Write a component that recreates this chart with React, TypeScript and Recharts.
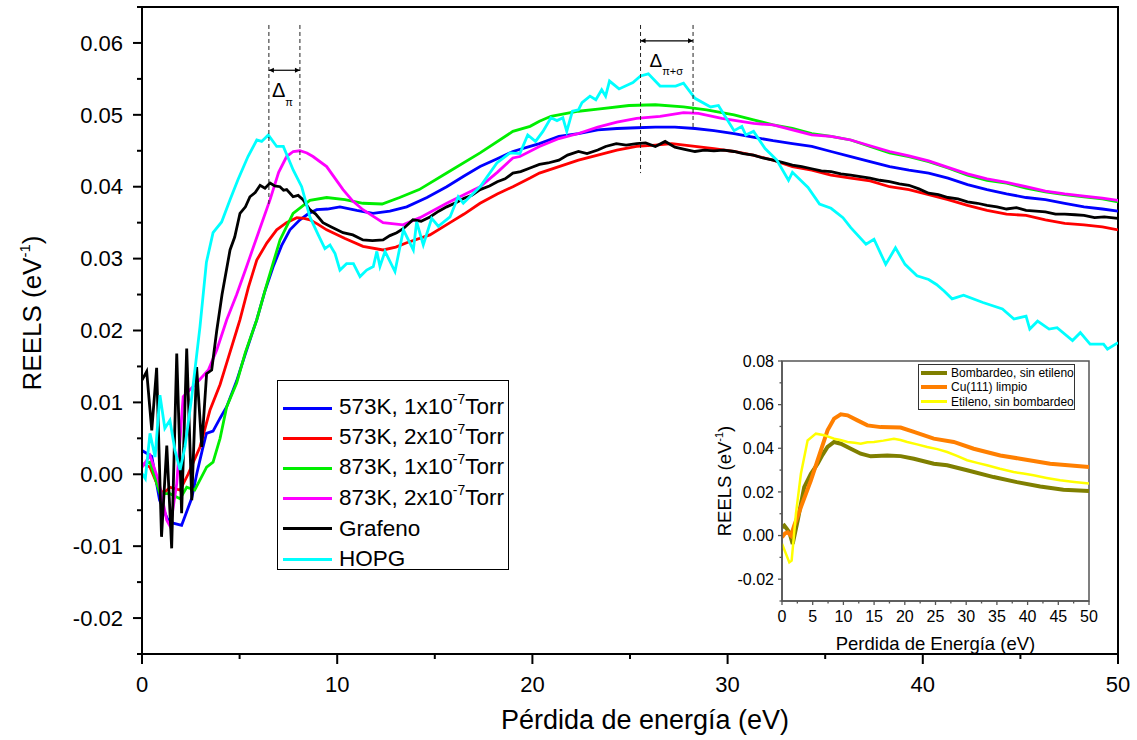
import React from 'react';
import { LineChart, Line, XAxis, YAxis, ReferenceArea, ReferenceLine, ReferenceDot, Legend } from 'recharts';

type Pt = [number, number];
const toData = (pts: Pt[]) => pts.map(([x, y]) => ({ x, y }));

// ---------- Main chart ticks ----------
const mainXTicks = [0, 5, 10, 15, 20, 25, 30, 35, 40, 45, 50];
const mainYTicks = [-0.025, -0.02, -0.015, -0.01, -0.005, 0, 0.005, 0.01, 0.015, 0.02, 0.025, 0.03, 0.035, 0.04, 0.045, 0.05, 0.055, 0.06, 0.065];
const insetXTicks = [0, 2.5, 5, 7.5, 10, 12.5, 15, 17.5, 20, 22.5, 25, 27.5, 30, 32.5, 35, 37.5, 40, 42.5, 45, 47.5, 50];
const insetYTicks = [-0.03, -0.02, -0.01, 0, 0.01, 0.02, 0.03, 0.04, 0.05, 0.06, 0.07, 0.08];

// ---------- Main series (Pérdida de energía eV, REELS) ----------
const s573K1: Pt[] = [[0,0.0033],[0.5,0.0025],[0.9,-0.0036],[1.3,-0.0062],[1.6,-0.0068],[2.03,-0.0071],[2.55,-0.0033],[2.8,0.0],[3.1,0.0035],[3.3,0.0057],[3.64,0.006],[4.0,0.0078],[4.34,0.0094],[4.85,0.013],[5.3,0.0168],[5.69,0.020],[5.88,0.0215],[6.3,0.0255],[6.71,0.0288],[7.15,0.0318],[7.58,0.034],[8.09,0.0354],[8.5,0.0362],[8.95,0.0368],[9.5,0.0369],[10.14,0.0372],[11.0,0.0367],[11.83,0.0363],[12.7,0.0366],[13.56,0.0372],[14.6,0.0385],[15.61,0.040],[16.5,0.0415],[17.32,0.0428],[18.2,0.0439],[19.0,0.0449],[19.88,0.0456],[20.36,0.046],[21.36,0.047],[22.36,0.0474],[23.35,0.0479],[24.33,0.0481],[25.34,0.0482],[26.3,0.0483],[27.3,0.0483],[28.33,0.0481],[29.3,0.0478],[30.33,0.0474],[31.3,0.0469],[32.33,0.0464],[33.32,0.046],[34.31,0.0456],[35.3,0.0449],[36.31,0.0442],[37.3,0.0435],[38.3,0.0428],[39.29,0.0423],[40.3,0.0419],[41.29,0.0412],[42.29,0.0403],[43.29,0.0396],[44.29,0.039],[45.29,0.0385],[46.28,0.0382],[47.27,0.0377],[48.26,0.0372],[49.2,0.0369],[50,0.0366]];
const s573K2: Pt[] = [[0,0.0015],[0.41,0.001],[0.84,-0.0018],[1.09,-0.0027],[1.43,-0.0018],[1.95,-0.0022],[2.36,0.0],[2.97,0.0038],[3.48,0.0089],[4.0,0.0125],[4.34,0.0155],[4.85,0.020],[5.02,0.0215],[5.45,0.026],[5.88,0.0298],[6.4,0.0322],[6.9,0.034],[7.4,0.035],[7.93,0.0357],[8.3,0.0356],[8.6,0.0354],[9.0,0.0348],[9.46,0.034],[10.4,0.0328],[11.32,0.0317],[12.35,0.0312],[13.0,0.0316],[13.56,0.0322],[14.75,0.0333],[15.78,0.035],[16.5,0.0362],[17.32,0.0377],[18.2,0.039],[19.0,0.040],[19.88,0.0412],[20.36,0.0419],[21.36,0.0428],[22.36,0.0437],[23.35,0.0444],[24.33,0.0451],[25.34,0.0456],[26.3,0.0458],[27.14,0.046],[28.33,0.0456],[29.3,0.0453],[30.33,0.0449],[31.3,0.0444],[32.33,0.0437],[33.32,0.0428],[34.31,0.0423],[35.3,0.0416],[36.31,0.0412],[37.3,0.0408],[38.3,0.040],[39.29,0.0396],[40.3,0.0389],[41.29,0.0382],[42.29,0.0374],[43.29,0.0367],[44.29,0.0362],[45.29,0.036],[46.28,0.0354],[47.27,0.0349],[48.26,0.0347],[49.2,0.0344],[50,0.034]];
const s873K1: Pt[] = [[0,0.0013],[0.41,0.0017],[0.92,-0.0027],[1.43,-0.0027],[1.95,-0.0034],[2.29,-0.0018],[2.7,-0.0022],[3.31,0.001],[3.64,0.0017],[4.0,0.005],[4.34,0.0094],[4.85,0.0127],[5.3,0.017],[5.69,0.020],[5.88,0.0215],[6.4,0.0265],[7.07,0.0326],[7.74,0.0363],[8.6,0.0381],[9.46,0.0385],[10.4,0.0382],[11.32,0.0377],[12.3,0.0376],[13.2,0.0385],[14.2,0.0396],[15.61,0.0419],[17.32,0.0447],[19.0,0.0477],[19.88,0.0484],[20.36,0.0491],[20.95,0.0498],[22.36,0.0505],[23.35,0.0508],[24.95,0.0513],[26.3,0.0514],[27.74,0.0511],[28.93,0.0507],[30.33,0.05],[31.33,0.0493],[32.33,0.0486],[33.32,0.0481],[34.31,0.0474],[35.3,0.047],[36.31,0.0465],[37.3,0.0456],[38.3,0.0447],[39.29,0.0442],[40.3,0.0435],[41.29,0.0426],[42.29,0.0416],[43.29,0.0409],[44.29,0.0405],[45.29,0.0398],[46.28,0.0393],[47.27,0.0389],[48.26,0.0386],[49.2,0.0383],[50,0.0379]];
const s873K2: Pt[] = [[0,0.001],[0.41,0.0026],[0.84,-0.0008],[1.27,-0.0064],[1.45,-0.0073],[1.78,-0.0013],[2.11,0.0108],[2.8,0.0127],[3.4,0.0145],[3.83,0.0173],[4.16,0.020],[4.34,0.0215],[4.85,0.025],[5.36,0.0289],[5.95,0.0335],[6.56,0.0382],[7.0,0.042],[7.41,0.0442],[7.75,0.0449],[8.09,0.045],[8.45,0.0447],[8.76,0.0442],[9.46,0.0428],[10.3,0.0396],[10.8,0.038],[11.32,0.0368],[12.35,0.035],[13.37,0.0347],[14.24,0.0357],[15.61,0.0377],[17.32,0.040],[18.2,0.042],[19.0,0.044],[19.36,0.0442],[20.36,0.0456],[21.36,0.0467],[22.36,0.0474],[23.35,0.0483],[24.33,0.049],[25.34,0.0495],[26.54,0.0498],[27.74,0.0503],[28.5,0.0502],[29.7,0.0495],[31.33,0.0488],[32.33,0.0486],[33.32,0.0479],[34.31,0.0472],[35.3,0.047],[36.31,0.0465],[37.3,0.0457],[38.3,0.0449],[39.29,0.0443],[40.3,0.0436],[41.29,0.0427],[42.29,0.0418],[43.29,0.0411],[44.29,0.0406],[45.29,0.04],[46.28,0.0394],[47.27,0.039],[48.26,0.0387],[49.2,0.0384],[50,0.0381]];
const sGrafeno: Pt[] = [[0,0.0131],[0.24,0.0143],[0.5,0.0061],[0.75,0.0148],[1.0,-0.0087],[1.27,0.004],[1.52,-0.0103],[1.78,0.0168],[2.03,-0.0054],[2.29,0.0175],[2.55,-0.0036],[2.8,0.0149],[3.06,0.0038],[3.31,0.014],[3.57,0.0145],[3.83,0.020],[4.1,0.025],[4.51,0.0312],[4.75,0.033],[5.02,0.0363],[5.3,0.0372],[5.53,0.0386],[5.8,0.0392],[6.05,0.0402],[6.3,0.0398],[6.56,0.0405],[6.8,0.0401],[7.07,0.040],[7.25,0.0395],[7.41,0.0396],[7.74,0.0386],[8.0,0.0388],[8.25,0.0382],[8.6,0.0368],[8.9,0.0362],[9.27,0.035],[9.7,0.0344],[10.3,0.0336],[10.8,0.0333],[11.32,0.0326],[11.8,0.0325],[12.35,0.0326],[12.7,0.0332],[13.05,0.0336],[13.4,0.0342],[13.88,0.0354],[14.3,0.0352],[14.75,0.0358],[15.2,0.0366],[15.61,0.0372],[16.1,0.0378],[16.5,0.0384],[16.9,0.0388],[17.32,0.0396],[17.8,0.0401],[18.2,0.0407],[18.6,0.0411],[19.0,0.0419],[19.4,0.0421],[19.88,0.0426],[20.36,0.0431],[20.8,0.0433],[21.36,0.0437],[21.8,0.0444],[22.36,0.0449],[22.8,0.0446],[23.35,0.0451],[23.75,0.0456],[24.3,0.046],[24.8,0.0458],[25.34,0.046],[25.8,0.0461],[26.3,0.0456],[26.8,0.0463],[27.3,0.0455],[27.8,0.0452],[28.33,0.0449],[28.8,0.0451],[29.3,0.045],[29.8,0.0451],[30.33,0.0449],[30.8,0.0446],[31.33,0.0444],[31.8,0.044],[32.33,0.0437],[32.8,0.0434],[33.32,0.043],[33.8,0.0428],[34.31,0.0425],[34.8,0.0422],[35.3,0.0421],[35.8,0.0418],[36.31,0.0416],[36.8,0.0414],[37.3,0.0412],[37.8,0.0409],[38.3,0.0407],[38.8,0.0404],[39.29,0.0402],[39.8,0.0397],[40.3,0.0391],[40.8,0.0389],[41.29,0.0385],[41.8,0.0383],[42.29,0.0379],[42.8,0.0377],[43.29,0.0374],[43.8,0.0372],[44.29,0.0369],[44.8,0.0371],[45.29,0.0367],[45.8,0.0366],[46.28,0.0365],[46.8,0.0362],[47.27,0.0362],[47.8,0.0361],[48.26,0.036],[48.8,0.0357],[49.3,0.0358],[50,0.0356]];
const sHOPG: Pt[] = [[0,0.0001],[0.17,-0.0006],[0.41,0.0057],[0.67,0.0024],[0.92,0.011],[1.17,0.0064],[1.43,0.0075],[1.69,0.0033],[1.95,0.0006],[2.2,0.0038],[2.55,0.0108],[2.97,0.0205],[3.3,0.0295],[3.64,0.0336],[4.08,0.0351],[4.51,0.0382],[4.92,0.041],[5.43,0.0442],[5.88,0.0465],[6.13,0.0463],[6.47,0.0472],[6.9,0.0456],[7.24,0.0456],[7.75,0.0423],[8.18,0.040],[8.6,0.0358],[9.03,0.0333],[9.37,0.0314],[9.63,0.0319],[9.89,0.0307],[10.14,0.0284],[10.48,0.0293],[10.83,0.0293],[11.17,0.0275],[11.51,0.0284],[11.85,0.0289],[12.03,0.031],[12.19,0.0289],[12.45,0.031],[12.96,0.0282],[13.39,0.034],[13.9,0.0312],[14.07,0.0351],[14.41,0.0319],[14.84,0.0356],[15.18,0.0345],[15.78,0.0358],[16.2,0.0386],[16.46,0.0377],[17.32,0.040],[18.18,0.0433],[18.85,0.0447],[19.36,0.0446],[19.76,0.0472],[20.16,0.0463],[20.54,0.0477],[20.95,0.0496],[21.26,0.0492],[21.56,0.0496],[21.76,0.0477],[22.05,0.0505],[22.36,0.0507],[22.54,0.0517],[22.95,0.0526],[23.25,0.0521],[23.55,0.0535],[23.75,0.0526],[23.95,0.0547],[24.44,0.0536],[25.15,0.0545],[25.54,0.0554],[25.94,0.0557],[26.54,0.054],[27.34,0.054],[27.74,0.0544],[28.33,0.0523],[29.13,0.0511],[29.53,0.0513],[30.33,0.0478],[30.73,0.0484],[30.93,0.0472],[31.33,0.0477],[31.92,0.0453],[32.52,0.0437],[33.12,0.0409],[33.32,0.042],[34.12,0.0399],[34.71,0.0376],[35.3,0.037],[35.91,0.0357],[36.31,0.0343],[37.09,0.032],[37.5,0.0327],[38.1,0.0292],[38.6,0.0315],[39.09,0.0292],[39.7,0.0276],[40.3,0.0271],[40.7,0.0264],[41.09,0.0255],[41.5,0.0244],[42.09,0.0249],[43.08,0.0239],[44.08,0.023],[44.67,0.0216],[45.29,0.022],[45.48,0.0202],[45.88,0.0213],[46.47,0.0202],[46.88,0.0204],[47.67,0.0186],[48.07,0.0197],[48.57,0.0181],[49.26,0.0181],[49.46,0.0174],[50,0.0183]];

const mainSeries = [
  { key: '573K1', pts: s573K1, color: '#0000ff' },
  { key: '573K2', pts: s573K2, color: '#ff0000' },
  { key: '873K1', pts: s873K1, color: '#00ee00' },
  { key: '873K2', pts: s873K2, color: '#ff00ff' },
  { key: 'Grafeno', pts: sGrafeno, color: '#000000' },
  { key: 'HOPG', pts: sHOPG, color: '#00ffff' },
];
const mainLegendLabels: string[][] = [
  ['573K, 1x10', '-7', 'Torr'],
  ['573K, 2x10', '-7', 'Torr'],
  ['873K, 1x10', '-7', 'Torr'],
  ['873K, 2x10', '-7', 'Torr'],
  ['Grafeno'],
  ['HOPG'],
];

// ---------- Inset series ----------
const sBombardeo: Pt[] = [[0,0.0038],[0.37,0.0046],[0.8,0.003],[1.19,0.0015],[1.74,-0.0038],[2.55,0.0069],[3.62,0.0222],[4.71,0.0283],[5.8,0.0329],[6.6,0.037],[7.42,0.0406],[8.49,0.0429],[9.58,0.0421],[11.2,0.0398],[12.82,0.0375],[14.45,0.0363],[17.16,0.0367],[19.32,0.0364],[21.48,0.0352],[24.72,0.0329],[26.9,0.0322],[30.15,0.0299],[34.46,0.0268],[38.26,0.0245],[42.05,0.0225],[45.83,0.021],[50,0.0204]];
const sCuLimpio: Pt[] = [[0,-0.0008],[0.5,0.001],[0.93,0.0015],[1.46,0.0],[2.0,0.0046],[3.08,0.013],[4.71,0.0253],[6.33,0.039],[7.42,0.0482],[8.49,0.0536],[9.58,0.0556],[10.67,0.0551],[12.29,0.0528],[13.91,0.0505],[16.07,0.0497],[19.32,0.0495],[21.48,0.0475],[24.72,0.0444],[27.97,0.0429],[31.22,0.0398],[35.55,0.0367],[38.8,0.0352],[43.67,0.0329],[50,0.0314]];
const sEtileno: Pt[] = [[0,-0.0038],[0.65,-0.0084],[1.19,-0.0123],[1.57,-0.0115],[2.27,0.01],[3.08,0.0283],[4.17,0.0436],[5.52,0.0467],[6.87,0.046],[8.49,0.0444],[9.5,0.0438],[10.67,0.0429],[11.8,0.0425],[12.82,0.0421],[13.9,0.0428],[14.98,0.0429],[16.5,0.0435],[18.23,0.0444],[19.3,0.0438],[20.4,0.0429],[22.0,0.0418],[23.65,0.0406],[25.3,0.0396],[26.9,0.0383],[28.5,0.0365],[30.15,0.0345],[31.8,0.0333],[33.39,0.0322],[35.5,0.0306],[37.71,0.0291],[39.3,0.0284],[40.96,0.0276],[43.1,0.0264],[45.29,0.0253],[47.6,0.0245],[50,0.0238]];

const insetSeries = [
  { key: 'bomb', pts: sBombardeo, color: '#7f7f00', width: 4 },
  { key: 'cu', pts: sCuLimpio, color: '#ff7f00', width: 4 },
  { key: 'etil', pts: sEtileno, color: '#ffff00', width: 2.5 },
];
const insetLegendLabels = ['Bombardeo, sin etileno', 'Cu(111) limpio', 'Etileno, sin bombardeo'];

// ---------- Annotations ----------
const piLines = [[6.5, 0.0625, 0.0372], [8.09, 0.0625, 0.0437]];
const piArrow = [6.5, 8.09, 0.0562];
const piLabel = [6.66, 0.0525];
const psLines = [[25.54, 0.0625, 0.0419], [28.23, 0.0625, 0.0483]];
const psArrow = [25.54, 28.23, 0.0603];
const psLabel = [26.0, 0.0567];

const FONT = '"Liberation Sans", Arial, Helvetica, sans-serif';

const isMajor = (v: number, step: number) => Math.abs(Math.round(v / step) * step - v) < 1e-9;

const makeYTick = (step: number, majorLen: number, minorLen: number, gap: number, fs: number, color: string, sw: number) => (props: any) => {
  const { x, y, payload } = props;
  const v = payload.value as number;
  const major = isMajor(v, step);
  return (
    <g>
      <line x1={x} x2={x - (major ? majorLen : minorLen)} y1={y} y2={y} stroke={color} strokeWidth={sw} />
      {major && (
        <text x={x - gap} y={y} dy="0.35em" textAnchor="end" fontSize={fs} fill="#000">
          {v.toFixed(2)}
        </text>
      )}
    </g>
  );
};
const makeXTick = (step: number, majorLen: number, minorLen: number, gap: number, fs: number, color: string, sw: number) => (props: any) => {
  const { x, y, payload } = props;
  const v = payload.value as number;
  const major = isMajor(v, step);
  return (
    <g>
      <line x1={x} x2={x} y1={y} y2={y + (major ? majorLen : minorLen)} stroke={color} strokeWidth={sw} />
      {major && (
        <text x={x} y={y + gap} textAnchor="middle" fontSize={fs} fill="#000">
          {String(v)}
        </text>
      )}
    </g>
  );
};

const MainYTick = makeYTick(0.01, 9, 5, 19, 22, '#000', 2);
const MainXTick = makeXTick(10, 10, 5, 38, 22, '#000', 2);
const InsetYTick = makeYTick(0.02, 4, 2.5, 8, 16, '#555', 1.3);
const InsetXTick = makeXTick(5, 4, 2.5, 21, 16, '#555', 1.3);

const MainXTitle = (props: any) => {
  const vb = props.viewBox || { x: 142, y: 654, width: 976, height: 60 };
  return (
    <text x={vb.x + vb.width / 2 + 15} y={729} textAnchor="middle" fontSize={27} fill="#000">
      Pérdida de energía (eV)
    </text>
  );
};
const MainYTitle = () => (
  <text transform="translate(41,313) rotate(-90)" textAnchor="middle" fontSize={26} fill="#000">
    REELS (eV<tspan fontSize={15} dy={-11}>-1</tspan><tspan dy={11}>)</tspan>
  </text>
);
const InsetXTitle = (props: any) => {
  const vb = props.viewBox || { x: 82, y: 251, width: 307, height: 45 };
  return (
    <text x={vb.x + vb.width / 2} y={300} textAnchor="middle" fontSize={18.5} fill="#000">
      Perdida de Energía (eV)
    </text>
  );
};
const InsetYTitle = () => (
  <text transform="translate(31,131) rotate(-90)" textAnchor="middle" fontSize={18.5} fill="#000">
    REELS (eV<tspan fontSize={11} dy={-8}>-1</tspan><tspan dy={8}>)</tspan>
  </text>
);

const ArrowShape = (p: any) => {
  const { x1, y1, x2, y2 } = p;
  const h = 5;
  const w = 2.5;
  return (
    <g>
      <line x1={x1} y1={y1} x2={x2} y2={y2} stroke="#000" strokeWidth={1.2} />
      <polygon points={`${x1},${y1} ${x1 + h},${y1 - w} ${x1 + h},${y1 + w}`} fill="#000" />
      <polygon points={`${x2},${y2} ${x2 - h},${y2 - w} ${x2 - h},${y2 + w}`} fill="#000" />
    </g>
  );
};
const PiLabelShape = (p: any) => (
  <text x={p.cx} y={p.cy} fontSize={20} fill="#000">
    Δ<tspan fontSize={11} dy={9}>π</tspan>
  </text>
);
const PsLabelShape = (p: any) => (
  <text x={p.cx} y={p.cy} fontSize={19} fill="#000">
    Δ<tspan fontSize={11} dy={8}>π+σ</tspan>
  </text>
);

const MainLegend = () => (
  <div style={{ position: 'relative', width: 230, height: 188, border: '1px solid #000', background: '#fff', fontFamily: FONT }}>
    {mainSeries.map((s, i) => {
      const lab = mainLegendLabels[i];
      return (
        <div key={s.key} style={{ position: 'absolute', left: 5, top: 12 + i * 30.2, height: 30, display: 'flex', alignItems: 'center', whiteSpace: 'nowrap' }}>
          <span style={{ display: 'inline-block', width: 49, height: 3, background: s.color, marginRight: 7 }} />
          <span style={{ fontSize: 22.5, lineHeight: '30px', color: '#000' }}>
            {lab[0]}
            {lab[1] && <span style={{ fontSize: 14, position: 'relative', top: -10 }}>{lab[1]}</span>}
            {lab[2]}
          </span>
        </div>
      );
    })}
  </div>
);

const InsetLegend = () => (
  <div style={{ position: 'relative', width: 155, height: 44, border: '1px solid #333', background: '#fff', fontFamily: FONT }}>
    {insetSeries.map((s, i) => (
      <div key={s.key} style={{ position: 'absolute', left: 2, top: 0.7 + i * 14.5, height: 14, display: 'flex', alignItems: 'center', whiteSpace: 'nowrap' }}>
        <span style={{ display: 'inline-block', width: 26, height: s.width === 4 ? 4 : 3, background: s.color, marginRight: 4 }} />
        <span style={{ fontSize: 12, lineHeight: '14px', color: '#000' }}>{insetLegendLabels[i]}</span>
      </div>
    ))}
  </div>
);

export default function App() {
  return (
    <div style={{ position: 'absolute', left: 0, top: 0, width: 1137, height: 740, background: '#fff', fontFamily: FONT }}>
      <LineChart width={1137} height={740} margin={{ top: 7, right: 19, bottom: 26, left: 62 }}>
        <XAxis
          type="number"
          dataKey="x"
          domain={[0, 50]}
          ticks={mainXTicks}
          interval={0}
          tickSize={0}
          tickMargin={0}
          tickLine={false}
          tick={MainXTick}
          height={60}
          axisLine={{ stroke: '#000', strokeWidth: 2 }}
          label={<MainXTitle />}
          allowDataOverflow
        />
        <YAxis
          type="number"
          domain={[-0.025, 0.065]}
          ticks={mainYTicks}
          interval={0}
          tickSize={0}
          tickMargin={0}
          tickLine={false}
          tick={MainYTick}
          width={80}
          axisLine={{ stroke: '#000', strokeWidth: 2 }}
          label={<MainYTitle />}
          allowDataOverflow
        />
        <ReferenceArea x1={0} x2={50} y1={-0.025} y2={0.065} fill="none" stroke="#000" strokeWidth={2} ifOverflow="visible" />
        {mainSeries.map((s) => (
          <Line
            key={s.key}
            data={toData(s.pts)}
            dataKey="y"
            type="linear"
            stroke={s.color}
            strokeWidth={2.8}
            dot={false}
            activeDot={false}
            isAnimationActive={false}
          />
        ))}
        {[...piLines, ...psLines].map((l, i) => (
          <ReferenceLine
            key={'dl' + i}
            segment={[{ x: l[0], y: l[1] }, { x: l[0], y: l[2] }]}
            stroke="#222"
            strokeWidth={1}
            strokeDasharray="4 3"
            ifOverflow="visible"
          />
        ))}
        {[piArrow, psArrow].map((a, i) => (
          <ReferenceLine
            key={'ar' + i}
            segment={[{ x: a[0], y: a[2] }, { x: a[1], y: a[2] }]}
            shape={ArrowShape}
            ifOverflow="visible"
          />
        ))}
        <ReferenceDot x={piLabel[0]} y={piLabel[1]} r={0} shape={PiLabelShape} ifOverflow="visible" />
        <ReferenceDot x={psLabel[0]} y={psLabel[1]} r={0} shape={PsLabelShape} ifOverflow="visible" />
        <Legend
          layout="vertical"
          align="center"
          verticalAlign="middle"
          content={<MainLegend />}
          wrapperStyle={{ left: 277, top: 380, width: 'auto', height: 'auto' }}
        />
      </LineChart>

      <div style={{ position: 'absolute', left: 700, top: 350, width: 400, height: 315 }}>
        <LineChart width={400} height={315} margin={{ top: 11, right: 11, bottom: 19, left: 22 }}>
          <XAxis
            type="number"
            dataKey="x"
            domain={[0, 50]}
            ticks={insetXTicks}
            interval={0}
            tickSize={0}
            tickMargin={0}
            tickLine={false}
            tick={InsetXTick}
            height={45}
            axisLine={{ stroke: '#555', strokeWidth: 1.5 }}
            label={<InsetXTitle />}
            allowDataOverflow
          />
          <YAxis
            type="number"
            domain={[-0.03, 0.08]}
            ticks={insetYTicks}
            interval={0}
            tickSize={0}
            tickMargin={0}
            tickLine={false}
            tick={InsetYTick}
            width={60}
            axisLine={{ stroke: '#555', strokeWidth: 1.5 }}
            label={<InsetYTitle />}
            allowDataOverflow
          />
          <ReferenceArea x1={0} x2={50} y1={-0.03} y2={0.08} fill="none" stroke="#555" strokeWidth={1.5} ifOverflow="visible" />
          {insetSeries.map((s) => (
            <Line
              key={s.key}
              data={toData(s.pts)}
              dataKey="y"
              type="linear"
              stroke={s.color}
              strokeWidth={s.width}
              dot={false}
              activeDot={false}
              isAnimationActive={false}
            />
          ))}
          <Legend
            layout="vertical"
            align="center"
            verticalAlign="middle"
            content={<InsetLegend />}
            wrapperStyle={{ left: 218, top: 14, width: 'auto', height: 'auto' }}
          />
        </LineChart>
      </div>
    </div>
  );
}
